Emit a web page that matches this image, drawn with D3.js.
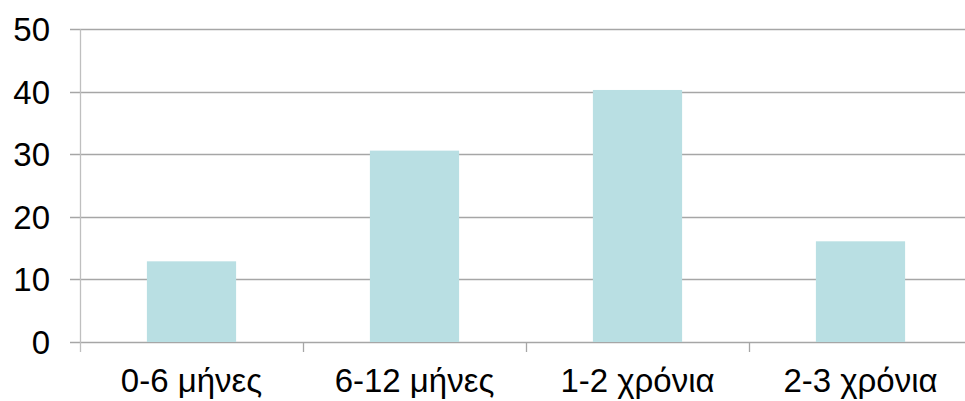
<!DOCTYPE html>
<html>
<head>
<meta charset="utf-8">
<script src="https://cdn.jsdelivr.net/npm/d3@7"></script>
<style>
  html, body { margin: 0; padding: 0; background: #fff; }
  svg { display: block; }
  text { font-family: "Liberation Sans", Arial, sans-serif; fill: #000; }
</style>
</head>
<body>
<svg id="chart" width="965" height="401"></svg>
<script>
// Duration categories and their shares
const categories = ["0-6 μήνες", "6-12 μήνες", "1-2 χρόνια", "2-3 χρόνια"];
const values = [12.9, 30.6, 40.3, 16.1];
const yTicks = [0, 10, 20, 30, 40, 50];

const svg = d3.select("#chart");
const plotLeft = 80, plotRight = 972, plotTop = 29.3, plotBottom = 342;
const fontSize = "33px";

const x = d3.scaleBand()
  .domain(categories)
  .range([plotLeft, plotRight])
  .paddingInner(0.6)
  .paddingOuter(0.3);

const y = d3.scaleLinear()
  .domain([0, 50])
  .range([plotBottom, plotTop]);

// Horizontal gridlines (extending a little left of the axis as tick marks)
svg.append("g")
  .selectAll("line")
  .data(yTicks)
  .join("line")
  .attr("x1", plotLeft - 10)
  .attr("x2", 965)
  .attr("y1", d => Math.round(y(d)) + 0.5)
  .attr("y2", d => Math.round(y(d)) + 0.5)
  .attr("stroke", "#a6a6a6")
  .attr("stroke-width", 1.3);

// Y tick labels
svg.append("g")
  .selectAll("text")
  .data(yTicks)
  .join("text")
  .attr("x", 50)
  .attr("y", d => y(d))
  .attr("dy", "0.36em")
  .attr("text-anchor", "end")
  .style("font-size", fontSize)
  .text(d => d);

// Bars
svg.append("g")
  .selectAll("rect")
  .data(values)
  .join("rect")
  .attr("x", (d, i) => x(categories[i]))
  .attr("width", x.bandwidth())
  .attr("y", d => y(d))
  .attr("height", d => y(0) - y(d))
  .attr("fill", "#b9dfe3");

// Vertical axis line
svg.append("line")
  .attr("x1", plotLeft + 0.5).attr("x2", plotLeft + 0.5)
  .attr("y1", plotTop).attr("y2", plotBottom + 10)
  .attr("stroke", "#bfbfbf")
  .attr("stroke-width", 1.3);

// Category boundary ticks below the baseline
const step = x.step();
svg.append("g")
  .selectAll("line")
  .data(categories.slice(1))
  .join("line")
  .attr("x1", c => Math.round(x(c) - (step - x.bandwidth()) / 2) + 0.5)
  .attr("x2", c => Math.round(x(c) - (step - x.bandwidth()) / 2) + 0.5)
  .attr("y1", plotBottom)
  .attr("y2", plotBottom + 10)
  .attr("stroke", "#a6a6a6")
  .attr("stroke-width", 1.3);

// Category labels
svg.append("g")
  .selectAll("text")
  .data(categories)
  .join("text")
  .attr("x", c => x(c) + x.bandwidth() / 2)
  .attr("y", 392)
  .attr("text-anchor", "middle")
  .style("font-size", fontSize)
  .text(c => c);
</script>
</body>
</html>
